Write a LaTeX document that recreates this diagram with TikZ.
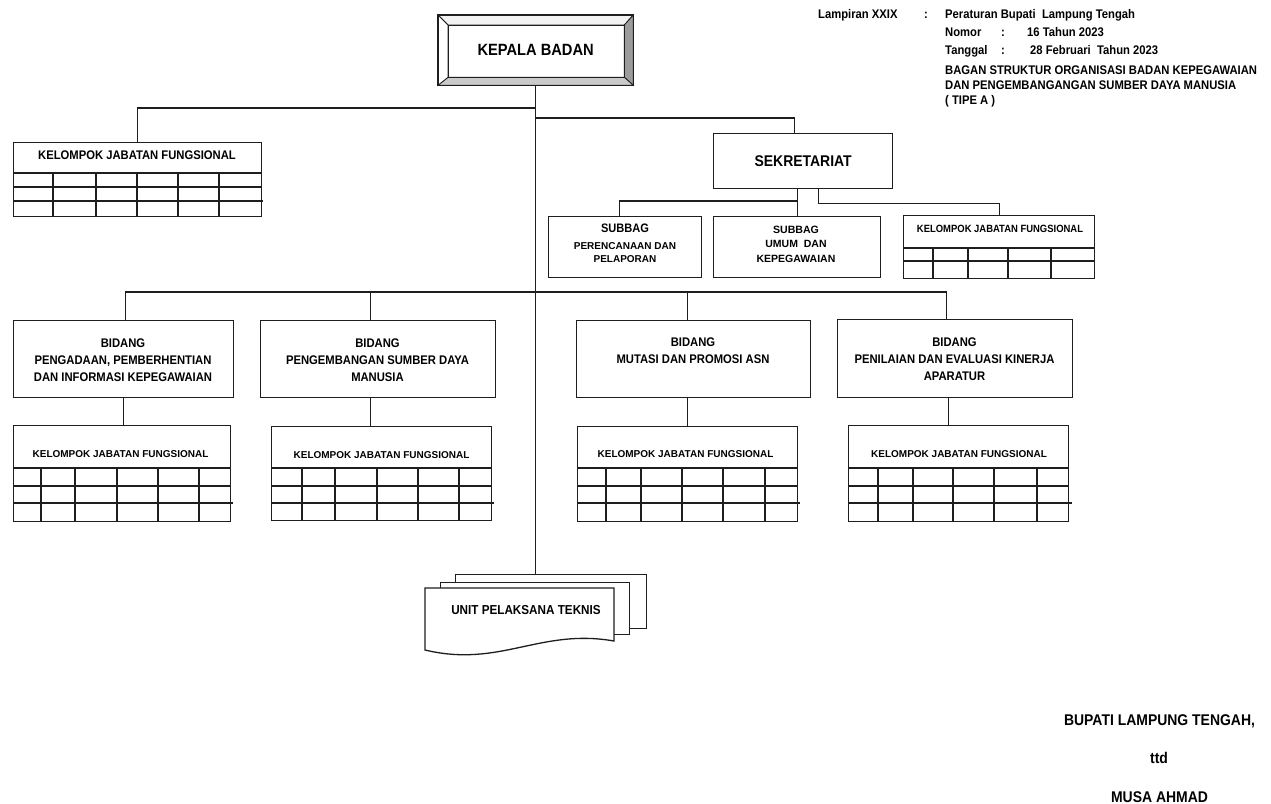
\documentclass[tikz,border=0pt]{standalone}
\usepackage{fontspec}
\setmainfont{Liberation Sans}
\newfontfamily\narrowfam[FakeStretch=0.9]{Liberation Sans}
\newfontfamily\widefam{Liberation Sans}
\newcommand{\NF}[1]{\narrowfam\bfseries\fontsize{#1}{17}\selectfont}
\newcommand{\WF}[1]{\widefam\bfseries\fontsize{#1}{13}\selectfont}
\definecolor{lc}{HTML}{1E1E1E}
\definecolor{bevR}{HTML}{9C9C9C}
\definecolor{bevB}{HTML}{CACACA}
\definecolor{bevT}{HTML}{F2F2F2}
\tikzset{
 box/.style={draw=lc, line width=1.3pt, fill=white, inner sep=0pt, anchor=north west},
 ln/.style={draw=lc, line width=1.2pt},
 gline/.style={draw=lc, line width=1.1pt},
 txt/.style={inner sep=0pt, anchor=base, text=black},
 txtw/.style={inner sep=0pt, anchor=base west, text=black},
 mtxt/.style={inner sep=0pt, anchor=north, align=center, text=black},
}
\begin{document}
\begin{tikzpicture}[x=1pt,y=-1pt]
\useasboundingbox (0,0) rectangle (1271,803);
\fill[white] (0,0) rectangle (1271,803);

% ---------- header ----------
\node[txtw, font=\NF{12.5}] (h1) at (818,18.3) {Lampiran XXIX};
\node[txtw, font=\NF{12.5}] (h1c) at (924,18.3) {:};
\node[txtw, font=\NF{12.5}] (h1b) at (945,18.3) {Peraturan Bupati\ \ Lampung Tengah};
\node[txtw, font=\NF{12.5}] (h2) at (945,36) {Nomor};
\node[txtw, font=\NF{12.5}] (h2c) at (1001,36) {:};
\node[txtw, font=\NF{12.5}] (h2b) at (1027,36) {16 Tahun 2023};
\node[txtw, font=\NF{12.5}] (h3) at (945,54.5) {Tanggal};
\node[txtw, font=\NF{12.5}] (h3c) at (1001,54.5) {:};
\node[txtw, font=\NF{12.5}] (h3b) at (1030,54.5) {28 Februari\ \ Tahun 2023};
\node[txtw, font=\NF{12.5}] (h4) at (945,74) {BAGAN STRUKTUR ORGANISASI BADAN KEPEGAWAIAN};
\node[txtw, font=\NF{12.5}] (h5) at (945,89) {DAN PENGEMBANGANGAN SUMBER DAYA MANUSIA};
\node[txtw, font=\NF{12.5}] (h6) at (945,104) {( TIPE A )};

% ---------- kepala badan ----------
\node[box, minimum width=194, minimum height=69, font=\NF{16.3}] (kb) at (438,15) {KEPALA BADAN};
\coordinate (iTL) at ([shift={(10,10)}]kb.north west);
\coordinate (iTR) at ([shift={(-9,10)}]kb.north east);
\coordinate (iBR) at ([shift={(-9,-8)}]kb.south east);
\coordinate (iBL) at ([shift={(10,-8)}]kb.south west);
\filldraw[fill=bevT, draw=lc, line width=0.8pt] (kb.north west) -- (kb.north east) -- (iTR) -- (iTL) -- cycle;
\filldraw[fill=bevR, draw=lc, line width=0.8pt] (kb.north east) -- (kb.south east) -- (iBR) -- (iTR) -- cycle;
\filldraw[fill=bevB, draw=lc, line width=0.8pt] (kb.south east) -- (kb.south west) -- (iBL) -- (iBR) -- cycle;
\filldraw[fill=white, draw=lc, line width=0.8pt] (kb.south west) -- (kb.north west) -- (iTL) -- (iBL) -- cycle;
\draw[lc, line width=1.3pt] (kb.north west) rectangle (kb.south east);
\draw[lc, line width=1pt] (iTL) rectangle (iBR);

% ---------- left kelompok ----------
\node[box, minimum width=248, minimum height=74] (k0) at (13,142) {};
\draw[gline] (13,173) -- (261,173);
\draw[gline] (13,187) -- (261,187);
\draw[gline] (13,201) -- (263,201);
\foreach \c in {53,96,137,178,219} \draw[gline] (\c,173) -- (\c,216);
\node[txt, font=\NF{12.5}] (k0t) at (137,159.5) {KELOMPOK JABATAN FUNGSIONAL};

% ---------- sekretariat ----------
\node[box, minimum width=179, minimum height=55, font=\NF{15.5}] (sek) at (713,133) {SEKRETARIAT};
\node[box, minimum width=153, minimum height=61] (sb1) at (548,216) {};
\node[txt, font=\NF{12.3}] (sb1a) at (625,232.4) {SUBBAG};
\node[txt, font=\WF{10}] (sb1b) at (625,249.6) {PERENCANAAN DAN};
\node[txt, font=\WF{10}] (sb1c) at (625,262.6) {PELAPORAN};
\node[box, minimum width=167, minimum height=61] (sb2) at (713,216) {};
\node[txt, font=\WF{10.6}] (sb2a) at (796,233.8) {SUBBAG};
\node[txt, font=\WF{10.5}] (sb2b) at (796,247.8) {UMUM\ \ DAN};
\node[txt, font=\WF{10.5}] (sb2c) at (796,262.8) {KEPEGAWAIAN};
\node[box, minimum width=191, minimum height=63] (k5) at (903,215) {};
\draw[gline] (903,248) -- (1094,248);
\draw[gline] (903,261) -- (1094,261);
\foreach \c in {933,968,1008,1051} \draw[gline] (\c,248) -- (\c,278);
\node[txt, font=\NF{10.5}] (k5t) at (1000,232.7) {KELOMPOK JABATAN FUNGSIONAL};

% ---------- bidang ----------
\node[box, minimum width=220, minimum height=77] (b1) at (13,320) {};
\node[mtxt, font=\NF{12.5}] (b1t) at (123,338.5) {BIDANG\\PENGADAAN, PEMBERHENTIAN\\DAN INFORMASI KEPEGAWAIAN};
\node[box, minimum width=235, minimum height=77] (b2) at (260,320) {};
\node[mtxt, font=\NF{12.5}] (b2t) at (377.5,338.5) {BIDANG\\PENGEMBANGAN SUMBER DAYA\\MANUSIA};
\node[box, minimum width=234, minimum height=77] (b3) at (576,320) {};
\node[mtxt, font=\NF{12.5}] (b3t) at (693,337.5) {BIDANG\\MUTASI DAN PROMOSI ASN};
\node[box, minimum width=235, minimum height=78] (b4) at (837,319) {};
\node[mtxt, font=\NF{12.5}] (b4t) at (954.5,337.5) {BIDANG\\PENILAIAN DAN EVALUASI KINERJA\\APARATUR};

% ---------- kelompok under bidang ----------
\node[box, minimum width=217, minimum height=96] (k1) at (13,425) {};
\draw[gline] (13,468) -- (230,468);
\draw[gline] (13,486) -- (230,486);
\draw[gline] (13,503) -- (233,503);
\foreach \c in {41,75,117,158,199} \draw[gline] (\c,468) -- (\c,521);
\node[txt, font=\WF{10}] (k1t) at (120.5,457.5) {KELOMPOK JABATAN FUNGSIONAL};

\node[box, minimum width=220, minimum height=94] (k2) at (271,426) {};
\draw[gline] (271,468) -- (491,468);
\draw[gline] (271,486) -- (491,486);
\draw[gline] (271,503) -- (494,503);
\foreach \c in {302,335,377,418,459} \draw[gline] (\c,468) -- (\c,520);
\node[txt, font=\WF{10}] (k2t) at (381.5,458.5) {KELOMPOK JABATAN FUNGSIONAL};

\node[box, minimum width=220, minimum height=95] (k3) at (577,426) {};
\draw[gline] (577,468) -- (797,468);
\draw[gline] (577,486) -- (797,486);
\draw[gline] (577,503) -- (800,503);
\foreach \c in {606,641,682,723,765} \draw[gline] (\c,468) -- (\c,521);
\node[txt, font=\WF{10}] (k3t) at (685.5,457.5) {KELOMPOK JABATAN FUNGSIONAL};

\node[box, minimum width=220, minimum height=96] (k4) at (848,425) {};
\draw[gline] (848,468) -- (1068,468);
\draw[gline] (848,486) -- (1068,486);
\draw[gline] (848,503) -- (1072,503);
\foreach \c in {878,913,953,994,1037} \draw[gline] (\c,468) -- (\c,521);
\node[txt, font=\WF{10}] (k4t) at (959,457.5) {KELOMPOK JABATAN FUNGSIONAL};

% ---------- UPT ----------
\node[box, minimum width=191, minimum height=54] (upt3) at (455,574) {};
\node[box, minimum width=189, minimum height=52] (upt2) at (440,582) {};
\filldraw[fill=white, draw=lc, line width=1.3pt] (425,588) -- (614,588) -- (614,641)
  .. controls (540,628) and (500,668) .. (425,650) -- cycle;
\node[txt, font=\NF{13}] (upt) at (526,614.7) {UNIT PELAKSANA TEKNIS};

% ---------- connectors ----------
\coordinate (jL) at (535,108);
\coordinate (jR) at (535,118);
\coordinate (bus) at (535,292);
\draw[ln] (kb.south) -- (kb.south |- upt3.north);
\draw[ln] (jL) -| (k0.north);
\draw[ln] (jR) -| ([xshift=-8.5pt]sek.north);
\draw[ln] (sek.south -| sb2.north) -- (sb2.north);
\coordinate (sj) at (796.5,201);
\draw[ln] ([xshift=-5.5pt]sb1.north) |- (sj);
\draw[ln] ([xshift=15.5pt]sek.south) -- ++(0,14) -| (k5.north);

\coordinate (b1in) at ([xshift=2pt]b1.north);
\coordinate (b2in) at ([xshift=-7.5pt]b2.north);
\coordinate (b3in) at ([xshift=-6pt]b3.north);
\coordinate (b4in) at ([xshift=-8.5pt]b4.north);
\draw[ln] (b1in) |- (b4in |- bus) -- (b4in);
\draw[ln] (b2in) -- (b2in |- bus);
\draw[ln] (b3in) -- (b3in |- bus);

\coordinate (b2out) at ([xshift=-7.5pt]b2.south);
\coordinate (b3out) at ([xshift=-6pt]b3.south);
\coordinate (b4out) at ([xshift=-6.5pt]b4.south);
\draw[ln] (b1.south) -- (b1.south |- k1.north);
\draw[ln] (b2out) -- (b2out |- k2.north);
\draw[ln] (b3out) -- (b3out |- k3.north);
\draw[ln] (b4out) -- (b4out |- k4.north);

% ---------- signature ----------
\node[txt, font=\NF{15.5}] (sig1) at (1159.5,725) {BUPATI LAMPUNG TENGAH,};
\node[txt, font=\NF{15.5}] (sig2) at (1159,763) {ttd};
\node[txt, font=\NF{15.5}] (sig3) at (1159.5,802) {MUSA AHMAD};
\end{tikzpicture}
\end{document}
